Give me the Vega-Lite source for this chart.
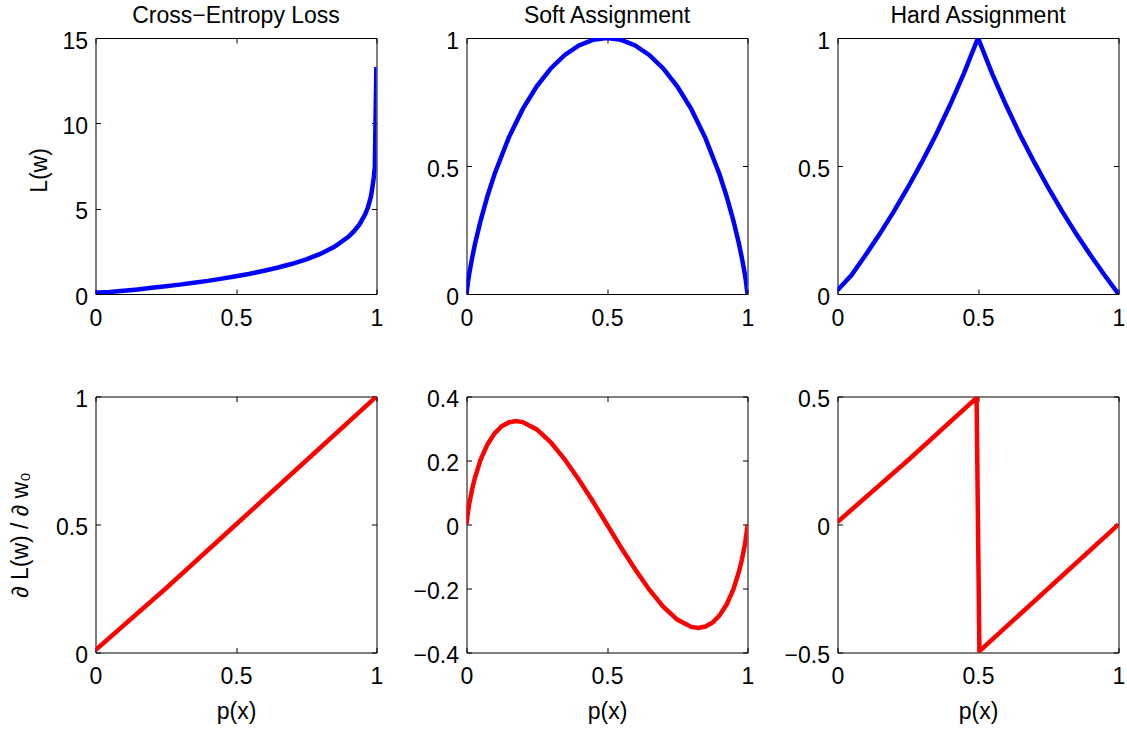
{
  "$schema": "https://vega.github.io/schema/vega-lite/v6.json",
  "background": "white",
  "padding": {"left": 8.5, "top": 4, "right": 5, "bottom": 5},
  "columns": 3,
  "spacing": {"row": 102.5, "column": 90},
  "bounds": "flush",
  "datasets": {
    "ce_L": [{"p":0,"v":0.07},{"p":0.05,"v":0.12},{"p":0.1,"v":0.19},{"p":0.15,"v":0.27},{"p":0.2,"v":0.36},{"p":0.25,"v":0.45},{"p":0.3,"v":0.55},{"p":0.35,"v":0.66},{"p":0.4,"v":0.77},{"p":0.45,"v":0.9},{"p":0.5,"v":1.04},{"p":0.55,"v":1.19},{"p":0.6,"v":1.36},{"p":0.65,"v":1.55},{"p":0.7,"v":1.77},{"p":0.75,"v":2.03},{"p":0.8,"v":2.35},{"p":0.85,"v":2.77},{"p":0.9,"v":3.35},{"p":0.92,"v":3.68},{"p":0.94,"v":4.09},{"p":0.96,"v":4.68},{"p":0.97,"v":5.1},{"p":0.98,"v":5.7},{"p":0.985,"v":6.2},{"p":0.99,"v":6.8},{"p":0.994,"v":7.4},{"p":0.9995,"v":13.3}],
    "soft_L": [{"p":0,"v":0},{"p":0.005,"v":0.045},{"p":0.01,"v":0.081},{"p":0.02,"v":0.141},{"p":0.03,"v":0.194},{"p":0.05,"v":0.286},{"p":0.075,"v":0.384},{"p":0.1,"v":0.469},{"p":0.15,"v":0.61},{"p":0.2,"v":0.722},{"p":0.25,"v":0.811},{"p":0.3,"v":0.881},{"p":0.35,"v":0.934},{"p":0.4,"v":0.971},{"p":0.45,"v":0.993},{"p":0.5,"v":1},{"p":0.55,"v":0.993},{"p":0.6,"v":0.971},{"p":0.65,"v":0.934},{"p":0.7,"v":0.881},{"p":0.75,"v":0.811},{"p":0.8,"v":0.722},{"p":0.85,"v":0.61},{"p":0.9,"v":0.469},{"p":0.925,"v":0.384},{"p":0.95,"v":0.286},{"p":0.97,"v":0.194},{"p":0.98,"v":0.141},{"p":0.99,"v":0.081},{"p":0.995,"v":0.045},{"p":1,"v":0}],
    "hard_L": [{"p":0,"v":0.015},{"p":0.05,"v":0.074},{"p":0.1,"v":0.152},{"p":0.15,"v":0.234},{"p":0.2,"v":0.322},{"p":0.25,"v":0.415},{"p":0.3,"v":0.515},{"p":0.35,"v":0.621},{"p":0.4,"v":0.737},{"p":0.45,"v":0.862},{"p":0.5,"v":1},{"p":0.55,"v":0.862},{"p":0.6,"v":0.737},{"p":0.65,"v":0.621},{"p":0.7,"v":0.515},{"p":0.75,"v":0.415},{"p":0.8,"v":0.322},{"p":0.85,"v":0.234},{"p":0.9,"v":0.152},{"p":0.95,"v":0.074},{"p":1,"v":0}],
    "ce_g": [{"p":0,"v":0.01},{"p":0.25,"v":0.25},{"p":0.5,"v":0.5},{"p":0.75,"v":0.75},{"p":1,"v":1}],
    "soft_g": [{"p":0,"v":0},{"p":0.001,"v":0.01},{"p":0.005,"v":0.038},{"p":0.01,"v":0.066},{"p":0.02,"v":0.11},{"p":0.03,"v":0.146},{"p":0.05,"v":0.202},{"p":0.075,"v":0.251},{"p":0.1,"v":0.285},{"p":0.125,"v":0.307},{"p":0.15,"v":0.319},{"p":0.175,"v":0.323},{"p":0.2,"v":0.32},{"p":0.25,"v":0.297},{"p":0.3,"v":0.257},{"p":0.35,"v":0.203},{"p":0.4,"v":0.14},{"p":0.45,"v":0.072},{"p":0.5,"v":0},{"p":0.55,"v":-0.072},{"p":0.6,"v":-0.14},{"p":0.65,"v":-0.203},{"p":0.7,"v":-0.257},{"p":0.75,"v":-0.297},{"p":0.8,"v":-0.32},{"p":0.825,"v":-0.323},{"p":0.85,"v":-0.319},{"p":0.875,"v":-0.307},{"p":0.9,"v":-0.285},{"p":0.925,"v":-0.251},{"p":0.95,"v":-0.202},{"p":0.97,"v":-0.146},{"p":0.98,"v":-0.11},{"p":0.99,"v":-0.066},{"p":0.995,"v":-0.038},{"p":0.999,"v":-0.01},{"p":1,"v":0}],
    "hard_g": [{"p":0,"v":0.01},{"p":0.25,"v":0.25},{"p":0.495,"v":0.495},{"p":0.505,"v":-0.495},{"p":0.75,"v":-0.25},{"p":1,"v":0}]
  },
  "concat": [
    {
      "width": 281, "height": 256,
      "title": "Cross−Entropy Loss",
      "data": {"name": "ce_L"},
      "layer": [
        {"mark": {"type": "line", "color": "#0000ff", "strokeWidth": 4.5, "clip": true},
         "encoding": {
           "x": {"field": "p", "type": "quantitative", "scale": {"domain": [0, 1], "nice": false, "zero": false}, "axis": {"orient": "bottom", "values": [0, 0.5, 1], "format": "~g", "title": null}},
           "y": {"field": "v", "type": "quantitative", "scale": {"domain": [0, 15], "nice": false, "zero": false}, "axis": {"orient": "left", "values": [0, 5, 10, 15], "format": "~g", "title": "L(w)", "titlePadding": 10, "titleY": 132}}
         }},
        {"mark": {"type": "line", "opacity": 0},
         "encoding": {
           "x": {"field": "p", "type": "quantitative", "axis": {"orient": "top", "values": [0, 0.5, 1], "labels": false, "title": null}},
           "y": {"field": "v", "type": "quantitative", "axis": {"orient": "right", "values": [0, 5, 10, 15], "labels": false, "title": null}}
         }}
      ],
      "resolve": {"axis": {"x": "independent", "y": "independent"}}
    },
    {
      "width": 281, "height": 256,
      "title": "Soft Assignment",
      "data": {"name": "soft_L"},
      "layer": [
        {"mark": {"type": "line", "color": "#0000ff", "strokeWidth": 4.5, "clip": true},
         "encoding": {
           "x": {"field": "p", "type": "quantitative", "scale": {"domain": [0, 1], "nice": false, "zero": false}, "axis": {"orient": "bottom", "values": [0, 0.5, 1], "format": "~g", "title": null}},
           "y": {"field": "v", "type": "quantitative", "scale": {"domain": [0, 1], "nice": false, "zero": false}, "axis": {"orient": "left", "values": [0, 0.5, 1], "format": "~g", "title": null}}
         }},
        {"mark": {"type": "line", "opacity": 0},
         "encoding": {
           "x": {"field": "p", "type": "quantitative", "axis": {"orient": "top", "values": [0, 0.5, 1], "labels": false, "title": null}},
           "y": {"field": "v", "type": "quantitative", "axis": {"orient": "right", "values": [0, 0.5, 1], "labels": false, "title": null}}
         }}
      ],
      "resolve": {"axis": {"x": "independent", "y": "independent"}}
    },
    {
      "width": 281, "height": 256,
      "title": "Hard Assignment",
      "data": {"name": "hard_L"},
      "layer": [
        {"mark": {"type": "line", "color": "#0000ff", "strokeWidth": 4.5, "clip": true},
         "encoding": {
           "x": {"field": "p", "type": "quantitative", "scale": {"domain": [0, 1], "nice": false, "zero": false}, "axis": {"orient": "bottom", "values": [0, 0.5, 1], "format": "~g", "title": null}},
           "y": {"field": "v", "type": "quantitative", "scale": {"domain": [0, 1], "nice": false, "zero": false}, "axis": {"orient": "left", "values": [0, 0.5, 1], "format": "~g", "title": null}}
         }},
        {"mark": {"type": "line", "opacity": 0},
         "encoding": {
           "x": {"field": "p", "type": "quantitative", "axis": {"orient": "top", "values": [0, 0.5, 1], "labels": false, "title": null}},
           "y": {"field": "v", "type": "quantitative", "axis": {"orient": "right", "values": [0, 0.5, 1], "labels": false, "title": null}}
         }}
      ],
      "resolve": {"axis": {"x": "independent", "y": "independent"}}
    },
    {
      "width": 281, "height": 256,
      "data": {"name": "ce_g"},
      "layer": [
        {"mark": {"type": "line", "color": "#ff0000", "strokeWidth": 4.5, "clip": true},
         "encoding": {
           "x": {"field": "p", "type": "quantitative", "scale": {"domain": [0, 1], "nice": false, "zero": false}, "axis": {"orient": "bottom", "values": [0, 0.5, 1], "format": "~g", "title": "p(x)"}},
           "y": {"field": "v", "type": "quantitative", "scale": {"domain": [0, 1], "nice": false, "zero": false}, "axis": {"orient": "left", "values": [0, 0.5, 1], "format": "~g", "title": "∂ L(w) / ∂ w₀", "titlePadding": 23, "titleY": 138}}
         }},
        {"mark": {"type": "line", "opacity": 0},
         "encoding": {
           "x": {"field": "p", "type": "quantitative", "axis": {"orient": "top", "values": [0, 0.5, 1], "labels": false, "title": null}},
           "y": {"field": "v", "type": "quantitative", "axis": {"orient": "right", "values": [0, 0.5, 1], "labels": false, "title": null}}
         }}
      ],
      "resolve": {"axis": {"x": "independent", "y": "independent"}}
    },
    {
      "width": 281, "height": 256,
      "data": {"name": "soft_g"},
      "layer": [
        {"mark": {"type": "line", "color": "#ff0000", "strokeWidth": 4.5, "clip": true},
         "encoding": {
           "x": {"field": "p", "type": "quantitative", "scale": {"domain": [0, 1], "nice": false, "zero": false}, "axis": {"orient": "bottom", "values": [0, 0.5, 1], "format": "~g", "title": "p(x)"}},
           "y": {"field": "v", "type": "quantitative", "scale": {"domain": [-0.4, 0.4], "nice": false, "zero": false}, "axis": {"orient": "left", "values": [-0.4, -0.2, 0, 0.2, 0.4], "format": "~g", "title": null}}
         }},
        {"mark": {"type": "line", "opacity": 0},
         "encoding": {
           "x": {"field": "p", "type": "quantitative", "axis": {"orient": "top", "values": [0, 0.5, 1], "labels": false, "title": null}},
           "y": {"field": "v", "type": "quantitative", "axis": {"orient": "right", "values": [-0.4, -0.2, 0, 0.2, 0.4], "labels": false, "title": null}}
         }}
      ],
      "resolve": {"axis": {"x": "independent", "y": "independent"}}
    },
    {
      "width": 281, "height": 256,
      "data": {"name": "hard_g"},
      "layer": [
        {"mark": {"type": "line", "color": "#ff0000", "strokeWidth": 4.5, "clip": true},
         "encoding": {
           "x": {"field": "p", "type": "quantitative", "scale": {"domain": [0, 1], "nice": false, "zero": false}, "axis": {"orient": "bottom", "values": [0, 0.5, 1], "format": "~g", "title": "p(x)"}},
           "y": {"field": "v", "type": "quantitative", "scale": {"domain": [-0.5, 0.5], "nice": false, "zero": false}, "axis": {"orient": "left", "values": [-0.5, 0, 0.5], "format": "~g", "title": null}}
         }},
        {"mark": {"type": "line", "opacity": 0},
         "encoding": {
           "x": {"field": "p", "type": "quantitative", "axis": {"orient": "top", "values": [0, 0.5, 1], "labels": false, "title": null}},
           "y": {"field": "v", "type": "quantitative", "axis": {"orient": "right", "values": [-0.5, 0, 0.5], "labels": false, "title": null}}
         }}
      ],
      "resolve": {"axis": {"x": "independent", "y": "independent"}}
    }
  ],
  "config": {
    "font": "Liberation Sans",
    "view": {"stroke": "black", "strokeWidth": 1},
    "axis": {
      "domain": false, "grid": false,
      "ticks": true, "tickSize": -5, "tickColor": "black", "tickWidth": 1,
      "labelFont": "Liberation Sans", "labelFontSize": 23, "labelColor": "black",
      "titleFont": "Liberation Sans", "titleFontSize": 23, "titleFontWeight": "normal", "titleColor": "black",
      "labelFlush": false, "labelOverlap": false, "labelBound": false
    },
    "axisBottom": {"labelPadding": 18, "titlePadding": 12},
    "axisLeft": {"labelPadding": 13, "labelOffset": 3},
    "title": {"fontSize": 23, "fontWeight": "normal", "font": "Liberation Sans", "color": "black", "offset": 2}
  }
}
